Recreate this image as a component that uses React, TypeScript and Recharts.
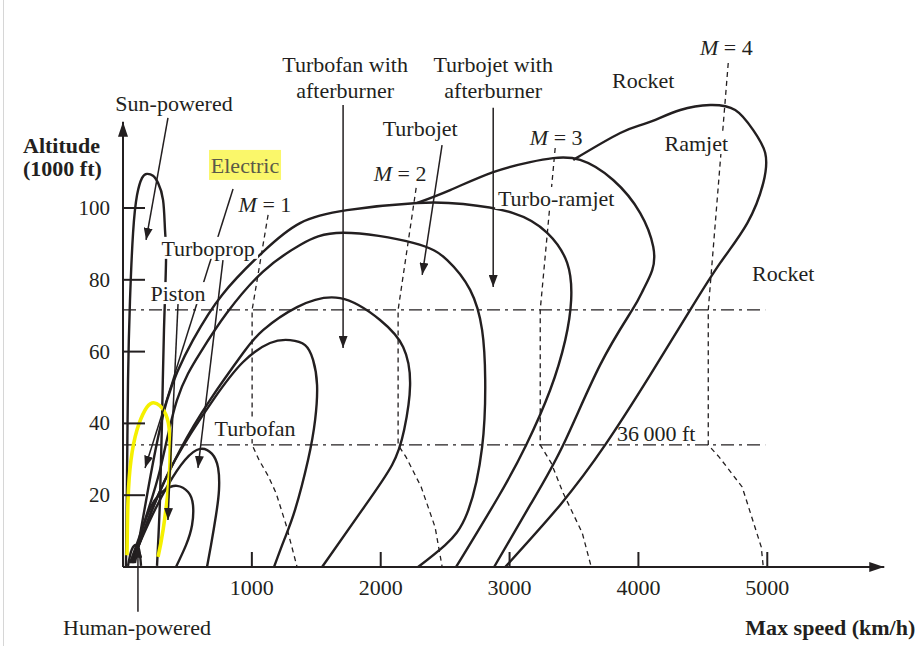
import React from 'react';
import { ComposedChart, Line, XAxis, YAxis, ReferenceDot, ReferenceLine } from 'recharts';

// axis ranges (km/h, 1000 ft)
const X_MAX = 6030;
const Y_MAX = 146.8;
const speedTicks = [1000, 2000, 3000, 4000, 5000];
const altitudeTicks = [20, 40, 60, 80, 100];

// flight envelopes, [speed km/h, altitude 1000 ft]
const sunPowered = [[23, 0.3], [31, 24], [39, 52], [54, 74], [78, 93], [109, 103.6], [148, 108.4], [186, 109.5], [233, 109], [272, 107], [311, 102.2], [326, 93.9], [334, 85.5], [318, 66], [303, 41], [287, 18.7], [264, 0.3]];
const humanPowered = [[39, 0.3], [62, 4.2], [93, 6.1], [124, 5], [140, 0.3]];
const electric = [[31, 3.3], [39, 18.7], [62, 29.8], [109, 38.2], [171, 43.7], [225, 45.7], [287, 44.9], [342, 41.5], [365, 35.4], [357, 24.2], [311, 10.3], [272, 2.8]];
const piston = [[54, 1.1], [132, 8.9], [225, 17.3], [326, 21.5], [419, 22.6], [505, 20.9], [543, 17.3], [536, 11.7], [489, 6.1], [411, 0]];
const turboprop = [[62, 1.1], [210, 13.1], [349, 22.8], [481, 29.8], [598, 32.9], [691, 31.5], [738, 27.6], [745, 21.5], [722, 14.5], [683, 6.1], [652, 0]];
const turbofan = [[70, 1.1], [210, 14.5], [404, 29.8], [699, 46.5], [932, 57.1], [1141, 62.4], [1297, 63.2], [1413, 61.8], [1475, 57.7], [1506, 50.7], [1491, 41], [1436, 29.8], [1335, 15.9], [1250, 7.5], [1172, 0]];
const turbofanAB = [[78, 1.1], [225, 15.9], [443, 32.6], [675, 46.5], [932, 59.6], [1087, 66], [1351, 72.4], [1685, 74.9], [1995, 68.8], [2174, 61.3], [2228, 50.7], [2182, 38.2], [2088, 28.4], [1856, 15.9], [1545, 0]];
const turbojet = [[85, 1.1], [171, 13.1], [287, 27], [419, 46.5], [598, 59.6], [807, 70.8], [1087, 82.3], [1374, 89.7], [1708, 93.1], [2252, 90.3], [2516, 85.5], [2694, 77.2], [2787, 66], [2811, 52.1], [2787, 33.4], [2671, 15], [2500, 6.1], [2290, 0]];
const turbojetAB = [[93, 1.1], [194, 21.5], [342, 46.5], [543, 63.2], [769, 75.8], [1087, 87.8], [1374, 95.8], [1739, 99.4], [2283, 101.4], [2640, 101.1], [3028, 98.6], [3292, 93.1], [3447, 84.7], [3478, 74.4], [3432, 63.2], [3315, 49.3], [3129, 34], [2912, 19.5], [2585, 0]];
const turboRamjet = [[2283, 101.4], [2539, 105], [2873, 110], [3160, 112.8], [3338, 113.9], [3548, 113.4], [3804, 107.8], [4014, 98.6], [4115, 89.2], [4107, 82.7], [4037, 77.2], [3952, 71.6], [3703, 56.3], [3416, 34], [3160, 17.3], [2880, 0]];
const ramjet = [[3494, 113.4], [3859, 120.9], [4068, 123.7], [4325, 127.3], [4557, 128.7], [4751, 127.3], [4891, 121.7], [4984, 115.3], [4969, 107], [4845, 95.8], [4635, 84.7], [4402, 71.6], [4092, 53.5], [3742, 34], [3393, 17.3], [2966, 0]];

// Mach lines
const mach1 = [[1126, 98.1], [1002, 71.6], [1002, 34], [1056, 29.8], [1126, 25.4], [1188, 20.6], [1266, 11.7], [1351, 0]];
const mach2 = [[2275, 105.6], [2135, 71.6], [2135, 34], [2197, 30.6], [2314, 22.3], [2422, 11.1], [2477, 0]];
const mach3 = [[3354, 116.7], [3238, 71.6], [3238, 34], [3323, 29], [3416, 20.6], [3564, 9.5], [3634, 0]];
const mach4 = [[4697, 140.4], [4542, 71.6], [4542, 34], [4627, 30.6], [4805, 22.3], [4953, 5.6], [4969, 0]];

// atmosphere layer boundaries
const upperLayer = [[0, 71.6], [4984, 71.6]];
const tropopause = [[0, 34], [4984, 34]];

// pointer arrows, [from, to]
const pointers = [
  [[349, 125.1], [179, 91.1]],
  [[854, 105.3], [171, 27.6]],
  [[776, 85.5], [582, 27.6]],
  [[427, 73.3], [349, 13.1]],
  [[1708, 128.7], [1708, 61]],
  [[2476, 117.5], [2322, 81.4]],
  [[2873, 127.9], [2873, 78]],
];

const labels = [
  { t: 'Sun-powered', x: 396, y: 129.3 },
  { t: 'Electric', x: 947, y: 112 },
  { t: 'M = 1', x: 1102, y: 100.9 },
  { t: 'Turboprop', x: 660, y: 88.9 },
  { t: 'Piston', x: 427, y: 76.3 },
  { t: 'Turbofan', x: 1025, y: 38.7 },
  { t: 'Turbofan with', x: 1724, y: 139.9 },
  { t: 'afterburner', x: 1724, y: 132.9 },
  { t: 'Turbojet', x: 2306, y: 122.3 },
  { t: 'M = 2', x: 2151, y: 109.8 },
  { t: 'Turbojet with', x: 2873, y: 139.9 },
  { t: 'afterburner', x: 2873, y: 132.9 },
  { t: 'M = 3', x: 3362, y: 119.8 },
  { t: 'Turbo-ramjet', x: 3362, y: 102.8 },
  { t: 'Rocket', x: 4037, y: 135.7 },
  { t: 'Ramjet', x: 4449, y: 118.1 },
  { t: 'M = 4', x: 4682, y: 144.9 },
  { t: 'Rocket', x: 5124, y: 81.9 },
  { t: '36\u2009000 ft', x: 4138, y: 37.3 },
  { t: 'Human-powered', x: 109, y: -16.7 },
];

const boldLabels = [
  { t: 'Altitude', x: -776, y: 117.6 },
  { t: '(1000 ft)', x: -776, y: 111.2 },
  { t: 'Max speed (km/h)', x: 5489, y: -16.7 },
];

// labels that sit on a white box hiding the lines behind them
const boxWidth: Record<string, number> = { Turboprop: 100, Piston: 62, Turbofan: 86, Ramjet: 68, 'Turbo-ramjet': 122 };

const FONT = 'Liberation Serif, Times New Roman, serif';
const INK = '#231f20';

const pts = (pairs: number[][]) => pairs.map(([x, y]) => ({ x, y }));

const XTick = (props: any) => {
  const { x, y, payload } = props;
  return (
    <g>
      <line x1={x} y1={y} x2={x} y2={y - 15} stroke={INK} strokeWidth={2} />
      <text x={x} y={y + 28} textAnchor="middle" style={{ fontFamily: FONT, fontSize: 22 }} fill={INK}>
        {payload.value}
      </text>
    </g>
  );
};

const YTick = (props: any) => {
  const { x, y, payload } = props;
  return (
    <g>
      <line x1={x} y1={y} x2={x + 22} y2={y} stroke={INK} strokeWidth={2} />
      <text x={x - 13} y={y + 7} textAnchor="end" style={{ fontFamily: FONT, fontSize: 21 }} fill={INK}>
        {payload.value}
      </text>
    </g>
  );
};

const renderLabel = (t: string, cx: number, cy: number, bold = false, anchor = 'middle') => {
  const isMach = t.startsWith('M = ');
  const w = boxWidth[t];
  return (
    <g>
      {t === 'Electric' && <rect x={cx - 36} y={cy - 15} width={72} height={30} fill="#faf76a" />}
      {w && <rect x={cx - w / 2} y={cy - 11} width={w} height={22} fill="#ffffff" />}
      <text
        x={cx}
        y={cy}
        dy="0.35em"
        textAnchor={anchor as any}
        style={{ fontFamily: FONT, fontSize: 22, fontWeight: bold ? 'bold' : 'normal' }}
        fill={t === 'Electric' ? '#5a5a48' : INK}
      >
        {isMach ? (
          <>
            <tspan fontStyle="italic">M</tspan>
            <tspan>{t.slice(1)}</tspan>
          </>
        ) : (
          t
        )}
      </text>
    </g>
  );
};

const envelopes = [sunPowered, humanPowered, piston, turboprop, turbofan, turbofanAB, turbojet, turbojetAB, turboRamjet, ramjet];
const machLines = [mach1, mach2, mach3, mach4];

export default function App() {
  return (
    <div style={{ position: 'absolute', left: 0, top: 0, width: 924, height: 646, background: '#fff' }}>
      <div style={{ position: 'absolute', left: 3, top: 0, width: 1, height: 646, background: '#d6d6d6' }} />
      <ComposedChart width={924} height={646} margin={{ top: 40, right: 24, bottom: 49, left: 83 }}>
        <defs>
          <marker id="ah" viewBox="0 0 12 9" refX="12" refY="4.5" markerWidth="12" markerHeight="9" markerUnits="userSpaceOnUse" orient="auto">
            <path d="M0,0 L12,4.5 L0,9 Z" fill={INK} />
          </marker>
          <marker id="axisHead" viewBox="0 0 15 10" refX="15" refY="5" markerWidth="15" markerHeight="10" markerUnits="userSpaceOnUse" orient="auto">
            <path d="M0,0 L15,5 L0,10 Z" fill={INK} />
          </marker>
        </defs>
        <XAxis
          type="number"
          dataKey="x"
          domain={[0, X_MAX]}
          ticks={speedTicks}
          interval={0}
          height={30}
          axisLine={false}
          tickLine={false}
          tickSize={0}
          tickMargin={0}
          tick={<XTick />}
        />
        <YAxis
          type="number"
          dataKey="y"
          domain={[0, Y_MAX]}
          ticks={altitudeTicks}
          interval={0}
          width={40}
          axisLine={false}
          tickLine={false}
          tickSize={0}
          tickMargin={0}
          tick={<YTick />}
        />

        {/* layer boundaries */}
        {[upperLayer, tropopause].map((d, i) => (
          <Line key={`layer${i}`} data={pts(d)} dataKey="y" type="linear" stroke={INK} strokeWidth={1.2}
            strokeDasharray="13 5 3 5" dot={false} activeDot={false} isAnimationActive={false} />
        ))}

        {/* Mach lines */}
        {machLines.map((d, i) => (
          <Line key={`mach${i}`} data={pts(d)} dataKey="y" type="linear" stroke={INK} strokeWidth={1.3}
            strokeDasharray="5 4" dot={false} activeDot={false} isAnimationActive={false} />
        ))}

        {/* envelopes */}
        {envelopes.map((d, i) => (
          <Line key={`env${i}`} data={pts(d)} dataKey="y" type="natural" stroke={INK} strokeWidth={2.4}
            dot={false} activeDot={false} isAnimationActive={false} />
        ))}
        <Line data={pts(electric)} dataKey="y" type="natural" stroke="#f5f000" strokeWidth={3.6}
          dot={false} activeDot={false} isAnimationActive={false} />

        {/* pointers */}
        {pointers.map((d, i) => (
          <Line key={`ptr${i}`} data={pts(d)} dataKey="y" type="linear" stroke={INK} strokeWidth={1.5}
            markerEnd="url(#ah)" dot={false} activeDot={false} isAnimationActive={false} />
        ))}

        {/* axes with arrow heads */}
        <ReferenceLine
          segment={[{ x: 0, y: 0 }, { x: 5908, y: 0 }]}
          ifOverflow="visible"
          shape={(p: any) => <line x1={p.x1} y1={p.y1} x2={p.x2} y2={p.y2} stroke={INK} strokeWidth={2} markerEnd="url(#axisHead)" />}
        />
        <ReferenceLine
          segment={[{ x: 0, y: 0 }, { x: 0, y: 124 }]}
          ifOverflow="visible"
          shape={(p: any) => <line x1={p.x1} y1={p.y1} x2={p.x2} y2={p.y2} stroke={INK} strokeWidth={2} markerEnd="url(#axisHead)" />}
        />
        <ReferenceLine
          segment={[{ x: 116, y: -12.5 }, { x: 116, y: 5.9 }]}
          ifOverflow="visible"
          shape={(p: any) => <line x1={p.x1} y1={p.y1} x2={p.x2} y2={p.y2} stroke={INK} strokeWidth={1.5} markerEnd="url(#ah)" />}
        />

        {labels.map((l, i) => (
          <ReferenceDot key={`lab${i}`} x={l.x} y={l.y} r={0} ifOverflow="visible"
            shape={(p: any) => renderLabel(l.t, p.cx, p.cy)} />
        ))}
        {boldLabels.map((l, i) => (
          <ReferenceDot key={`bold${i}`} x={l.x} y={l.y} r={0} ifOverflow="visible"
            shape={(p: any) => renderLabel(l.t, p.cx, p.cy, true, i < 2 ? 'start' : 'middle')} />
        ))}
      </ComposedChart>
    </div>
  );
}
